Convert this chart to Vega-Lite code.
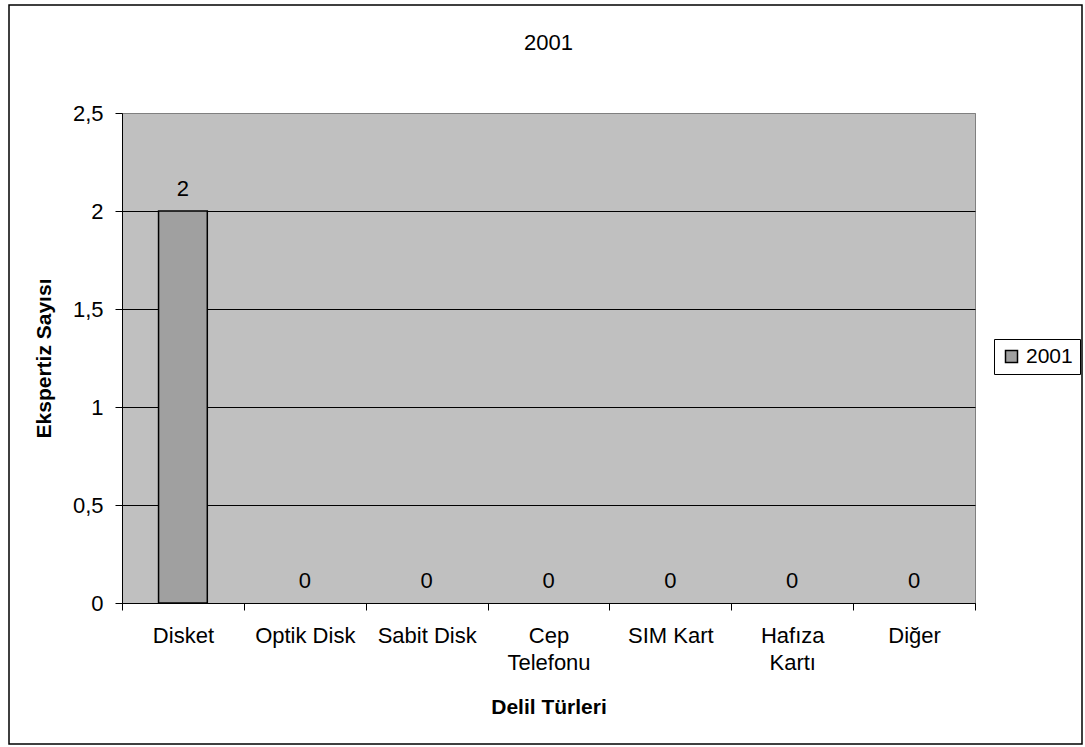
{
  "$schema": "https://vega.github.io/schema/vega-lite/v6.json",
  "width": 853,
  "height": 490,
  "autosize": {"type": "none"},
  "padding": {"left": 122, "top": 113, "right": 110, "bottom": 144},
  "background": "white",
  "title": {
    "text": "2001",
    "font": "Liberation Sans",
    "fontSize": 22,
    "fontWeight": "normal",
    "color": "black",
    "anchor": "middle",
    "offset": -51
  },
  "data": {
    "values": [
      {"category": "Disket", "value": 2, "series": "2001"},
      {"category": "Optik Disk", "value": 0, "series": "2001"},
      {"category": "Sabit Disk", "value": 0, "series": "2001"},
      {"category": "Cep Telefonu", "value": 0, "series": "2001"},
      {"category": "SIM Kart", "value": 0, "series": "2001"},
      {"category": "Hafıza Kartı", "value": 0, "series": "2001"},
      {"category": "Diğer", "value": 0, "series": "2001"}
    ]
  },
  "layer": [
    {
      "data": {"values": [{}]},
      "mark": {"type": "rect", "fillOpacity": 0, "stroke": "black", "strokeWidth": 1.5},
      "encoding": {
        "x": {"value": -113},
        "x2": {"value": 960},
        "y": {"value": -108},
        "y2": {"value": 631}
      }
    },
    {
      "mark": {"type": "bar", "width": {"band": 0.4}, "stroke": "black", "strokeWidth": 1.5},
      "encoding": {
        "x": {
          "field": "category",
          "type": "nominal",
          "sort": null,
          "scale": {"paddingInner": 0, "paddingOuter": 0},
          "axis": {
            "title": "Delil Türleri",
            "labelAngle": 0,
            "tickBand": "extent",
            "tickSize": 7,
            "labelPadding": 15,
            "labelFontSize": 22,
            "labelLineHeight": 27,
            "labelExpr": "datum.label == 'Cep Telefonu' ? ['Cep', 'Telefonu'] : datum.label == 'Hafıza Kartı' ? ['Hafıza', 'Kartı'] : datum.label",
            "titlePadding": 23
          }
        },
        "y": {
          "field": "value",
          "type": "quantitative",
          "scale": {"domain": [0, 2.5], "nice": false},
          "axis": {
            "title": "Ekspertiz Sayısı",
            "values": [0, 0.5, 1, 1.5, 2, 2.5],
            "labelExpr": "replace(format(datum.value, '~g'), '.', ',')",
            "labelPadding": 12,
            "labelFontSize": 22,
            "tickSize": 7,
            "grid": true,
            "gridColor": {"condition": {"test": "datum.value == 2.5", "value": "#808080"}, "value": "black"},
            "titlePadding": 18
          }
        },
        "strokeOpacity": {"condition": {"test": "datum.value == 0", "value": 0}, "value": 1},
        "color": {
          "field": "series",
          "type": "nominal",
          "scale": {"range": ["#A0A0A0"]},
          "legend": {
            "orient": "none",
            "legendX": 872,
            "legendY": 226,
            "title": null,
            "strokeColor": "black",
            "fillColor": "white",
            "padding": 7,
            "labelFontSize": 21,
            "labelColor": "black",
            "labelOffset": 4,
            "symbolType": "square",
            "symbolSize": 144,
            "symbolStrokeColor": "black",
            "symbolStrokeWidth": 1.5,
            "symbolOpacity": 1
          }
        }
      }
    },
    {
      "mark": {"type": "text", "fontSize": 22, "color": "black", "baseline": "alphabetic", "dy": -15},
      "encoding": {
        "x": {"field": "category", "type": "nominal", "sort": null},
        "y": {"field": "value", "type": "quantitative"},
        "text": {"field": "value", "type": "quantitative"}
      }
    }
  ],
  "config": {
    "font": "Liberation Sans",
    "view": {"fill": "#C0C0C0", "stroke": "#808080", "strokeWidth": 1},
    "axis": {
      "domainColor": "black",
      "domainWidth": 1,
      "tickColor": "black",
      "tickWidth": 1,
      "labelColor": "black",
      "labelFont": "Liberation Sans",
      "titleColor": "black",
      "titleFont": "Liberation Sans",
      "titleFontSize": 21,
      "titleFontWeight": "bold",
      "gridOpacity": 1,
      "gridWidth": 1
    }
  }
}
